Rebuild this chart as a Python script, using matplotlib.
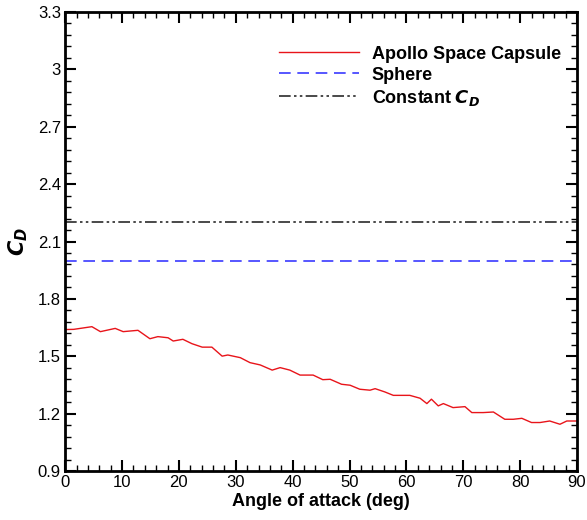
import matplotlib.pyplot as plt
from matplotlib.ticker import MultipleLocator, AutoMinorLocator

plt.rcParams["font.family"] = ["Liberation Sans", "DejaVu Sans"]

# Drag coefficient of the capsule vs angle of attack
alpha_deg = [0, 1.5, 4.7, 6.2, 8.8, 10.2, 12.8, 14.9, 16.3, 18.1, 19.0, 20.7,
             22.3, 24.1, 25.8, 27.6, 28.6, 30.8, 32.5, 34.3, 36.4, 37.8, 39.5,
             41.3, 43.6, 45.3, 46.6, 48.6, 50.1, 51.8, 53.6, 54.5, 56.2, 57.7,
             60.6, 62.4, 63.6, 64.4, 65.6, 66.5, 68.2, 70.3, 71.5, 73.5, 75.3,
             77.3, 78.8, 80.3, 82.0, 83.5, 85.2, 87.0, 88.2, 90.0]
cd_apollo = [1.640, 1.641, 1.655, 1.629, 1.646, 1.629, 1.636, 1.592, 1.603, 1.597,
             1.580, 1.589, 1.566, 1.548, 1.548, 1.501, 1.507, 1.493, 1.467, 1.455,
             1.428, 1.441, 1.428, 1.402, 1.402, 1.378, 1.380, 1.354, 1.349, 1.328,
             1.323, 1.331, 1.314, 1.296, 1.296, 1.281, 1.253, 1.276, 1.241, 1.253,
             1.232, 1.237, 1.206, 1.206, 1.209, 1.171, 1.171, 1.176, 1.154, 1.154,
             1.162, 1.145, 1.162, 1.162]

cd_sphere = 2.0
cd_constant = 2.2

fig = plt.figure(figsize=(5.87, 5.2), dpi=100)
ax = fig.add_axes([0.111, 0.094, 0.872, 0.883])

ax.plot(alpha_deg, cd_apollo, color="#e8141a", lw=1.0, label="Apollo Space Capsule")
ax.axhline(cd_sphere, color="#3a3aff", lw=1.2, dashes=(7, 4), label="Sphere")
ax.axhline(cd_constant, color="#2a2a2a", lw=1.2, dashes=(7, 2, 1.5, 2, 1.5, 2),
           label="Constant $\\mathbfit{C}_{\\mathbfit{D}}$")

ax.set_xlim(0, 90)
ax.set_ylim(0.9, 3.3)
ax.xaxis.set_major_locator(MultipleLocator(10))
ax.xaxis.set_minor_locator(AutoMinorLocator(5))
ax.yaxis.set_minor_locator(AutoMinorLocator(5))
ax.set_yticks([0.9, 1.2, 1.5, 1.8, 2.1, 2.4, 2.7, 3.0, 3.3])
ax.set_yticklabels(["0.9", "1.2", "1.5", "1.8", "2.1", "2.4", "2.7", "3", "3.3"])

ax.tick_params(which="both", direction="in", top=True, right=True,
               labelsize=12, width=1.5, pad=3)
ax.tick_params(which="major", length=8)
ax.tick_params(which="minor", length=4, width=1.0)
for sp in ax.spines.values():
    sp.set_linewidth(2)

ax.set_xlabel("Angle of attack (deg)", fontsize=13, fontweight="bold", labelpad=2)
ax.set_ylabel("$\\mathbfit{C}_{\\mathbfit{D}}$", fontsize=15, labelpad=6)

leg = ax.legend(loc="upper right", bbox_to_anchor=(1.0, 0.962), frameon=False,
                handlelength=4.4, handletextpad=0.72, labelspacing=0.22,
                prop={"size": 13, "weight": "bold"})

fig.savefig("out.png", dpi=100)
